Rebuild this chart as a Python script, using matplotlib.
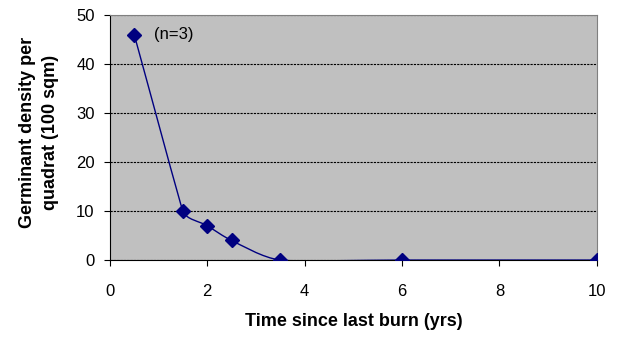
import math

import matplotlib

matplotlib.use("Agg")

import matplotlib.pyplot as plt  # noqa: E402
from matplotlib.path import Path  # noqa: E402
from matplotlib.patches import PathPatch  # noqa: E402

plt.rcParams["font.family"] = ["Liberation Sans", "DejaVu Sans"]

years = [0.5, 1.5, 2.0, 2.5, 3.5, 6.0, 10.0]
density = [46, 10, 7, 4, 0, 0, 0]
x_ticks = [0, 2, 4, 6, 8, 10]
y_ticks = [0, 10, 20, 30, 40, 50]

NAVY = "#000080"


def _smooth_path(ax, xs, ys):
    # Excel-like smoothed line: Bezier segments in pixel space, handle length
    # limited by the shorter neighbouring segment so nothing overshoots
    to_px = ax.transData.transform
    pts = [tuple(p) for p in to_px(list(zip(xs, ys)))]
    n = len(pts)

    def dist(a, b):
        return math.hypot(b[0] - a[0], b[1] - a[1])

    def handle(i):
        prev_p = pts[i - 1] if i > 0 else pts[i]
        next_p = pts[i + 1] if i + 1 < n else pts[i]
        tx, ty = next_p[0] - prev_p[0], next_p[1] - prev_p[1]
        norm = math.hypot(tx, ty) or 1.0
        lengths = [dist(pts[i], p) for p in (prev_p, next_p) if p != pts[i]]
        size = min(lengths) / 3
        return tx / norm * size, ty / norm * size

    verts = [pts[0]]
    codes = [Path.MOVETO]
    for i in range(n - 1):
        h1 = handle(i)
        h2 = handle(i + 1)
        p1, p2 = pts[i], pts[i + 1]
        verts += [(p1[0] + h1[0], p1[1] + h1[1]),
                  (p2[0] - h2[0], p2[1] - h2[1]),
                  p2]
        codes += [Path.CURVE4] * 3
    inv = ax.transData.inverted()
    return Path(inv.transform(verts), codes)


fig = plt.figure(figsize=(6.39, 3.44), dpi=100)
ax = fig.add_axes([0.172, 0.244, 0.762, 0.712])
ax.set_facecolor("#c0c0c0")
ax.set_xlim(0, 10)
ax.set_ylim(0, 50)

ax.add_patch(PathPatch(_smooth_path(ax, years, density), facecolor="none",
                       edgecolor=NAVY, linewidth=1.0, zorder=3))
ax.plot(years, density, linestyle="none", marker="D", markersize=7.5,
        color=NAVY, zorder=4)
ax.text(0.9, 46, "(n=3)", fontsize=12, va="center", ha="left")

ax.set_xticks(x_ticks)
ax.set_yticks(y_ticks)
ax.tick_params(axis="both", labelsize=12, length=4, direction="out", width=0.8)
ax.tick_params(axis="x", pad=13)
ax.tick_params(axis="y", pad=7)

ax.grid(axis="y", color="black", linestyle=(0, (2, 1)), linewidth=0.8)
ax.set_axisbelow(True)
for side in ("left", "bottom"):
    ax.spines[side].set_color("black")
    ax.spines[side].set_linestyle((0, (2, 1)))
    ax.spines[side].set_linewidth(0.8)
for side in ("top", "right"):
    ax.spines[side].set_color("#808080")
    ax.spines[side].set_linestyle((0, (2, 1)))
    ax.spines[side].set_linewidth(0.8)

ax.set_xlabel("Time since last burn (yrs)", fontsize=13, fontweight="bold", labelpad=10)
ax.set_ylabel("Germinant density per\nquadrat (100 sqm)", fontsize=13,
              fontweight="bold", linespacing=1.45)
ax.yaxis.set_label_coords(-0.105, 0.52)

fig.savefig("out.png", dpi=100)
